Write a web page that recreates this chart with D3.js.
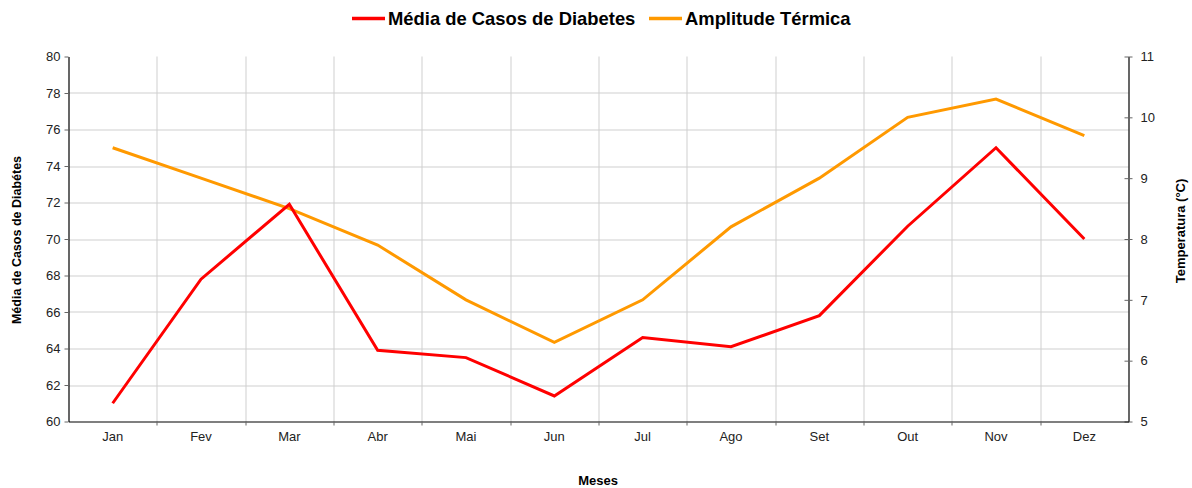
<!DOCTYPE html>
<html>
<head>
<meta charset="utf-8">
<script src="https://cdn.jsdelivr.net/npm/d3@7"></script>
<style>
  body { margin: 0; background: #fff; }
  text { font-family: "Liberation Sans", Arial, sans-serif; }
</style>
</head>
<body>
<script>
const width = 1192;
const height = 488;
const margin = { top: 56.5, left: 68.5, right: 63.5, bottom: 66.5 };
const board = {
  width: width - (margin.left + margin.right),
  height: height - (margin.top + margin.bottom),
};

const months = ['Jan', 'Fev', 'Mar', 'Abr', 'Mai', 'Jun', 'Jul', 'Ago', 'Set', 'Out', 'Nov', 'Dez'];
const diabetes = [61.0, 67.8, 71.9, 63.9, 63.5, 61.4, 64.6, 64.1, 65.8, 70.7, 75.0, 70.0];
const amplitude = [9.5, 9.0, 8.5, 7.9, 7.0, 6.3, 7.0, 8.2, 9.0, 10.0, 10.3, 9.7];
const leftTicks = [60, 62, 64, 66, 68, 70, 72, 74, 76, 78, 80];
const rightTicks = [5, 6, 7, 8, 9, 10, 11];
const seriesNames = ['Média de Casos de Diabetes', 'Amplitude Térmica'];
const colors = ['#ff0000', '#ff9900'];

const svg = d3.select('body')
  .append('svg')
    .attr('width', width)
    .attr('height', height);

const g = svg.append('g')
  .attr('transform', `translate(${margin.left}, ${margin.top})`);

const x = d3.scaleBand()
  .range([0, board.width])
  .domain(months);

const yL = d3.scaleLinear()
  .range([board.height, 0])
  .domain([60, 80]);

const yR = d3.scaleLinear()
  .range([board.height, 0])
  .domain([5, 11]);

// grid
g.append('g')
  .selectAll('line')
  .data(leftTicks.slice(1, -1))
  .enter()
    .append('line')
    .attr('x1', 0)
    .attr('x2', board.width)
    .attr('y1', (d) => Math.round(yL(d)) + 0.5)
    .attr('y2', (d) => Math.round(yL(d)) + 0.5)
    .attr('stroke', '#cfcfcf')
    .attr('stroke-width', 1);

g.append('g')
  .selectAll('line')
  .data(months.slice(1))
  .enter()
    .append('line')
    .attr('x1', (d) => Math.round(x(d)) + 0.5)
    .attr('x2', (d) => Math.round(x(d)) + 0.5)
    .attr('y1', 0)
    .attr('y2', board.height)
    .attr('stroke', '#cfcfcf')
    .attr('stroke-width', 1);

// axes
const leftAxis = d3.axisLeft(yL)
  .tickValues(leftTicks)
  .tickSizeInner(4)
  .tickSizeOuter(0)
  .tickPadding(4);

const rightAxis = d3.axisRight(yR)
  .tickValues(rightTicks)
  .tickFormat(d3.format('d'))
  .tickSizeInner(4)
  .tickSizeOuter(0)
  .tickPadding(8);

const xAxis = d3.axisBottom(x)
  .tickSize(0)
  .tickPadding(10);

const la = g.append('g').call(leftAxis);
const ra = g.append('g').attr('transform', `translate(${board.width}, 0)`).call(rightAxis);
const xa = g.append('g').attr('transform', `translate(0, ${board.height})`).call(xAxis);

ra.selectAll('.tick line').attr('x1', -4);

// x ticks at band boundaries
xa.append('g')
  .selectAll('line')
  .data(months.slice(1))
  .enter()
    .append('line')
    .attr('x1', (d) => Math.round(x(d)) + 0.5)
    .attr('x2', (d) => Math.round(x(d)) + 0.5)
    .attr('y1', 0)
    .attr('y2', 4)
    .attr('stroke', '#666');

[la, ra, xa].forEach((a) => {
  a.selectAll('.domain').attr('stroke', '#000').attr('stroke-width', 1.2);
  a.selectAll('.tick line').attr('stroke', '#666');
  a.selectAll('text')
    .attr('font-size', 13)
    .attr('fill', '#222')
    .style('font-family', '"Liberation Sans", Arial, sans-serif');
});

// lines
const cx = (d, i) => x(months[i]) + x.bandwidth() / 2;

const lineL = d3.line().x(cx).y((d) => yL(d));
const lineR = d3.line().x(cx).y((d) => yR(d));

g.append('path')
  .datum(amplitude)
  .attr('fill', 'none')
  .attr('stroke', colors[1])
  .attr('stroke-width', 3)
  .attr('d', lineR);

g.append('path')
  .datum(diabetes)
  .attr('fill', 'none')
  .attr('stroke', colors[0])
  .attr('stroke-width', 3)
  .attr('d', lineL);

// axis titles
svg.append('text')
  .attr('transform', 'translate(21, 240) rotate(-90)')
  .attr('text-anchor', 'middle')
  .attr('font-size', 12.5)
  .attr('font-weight', 'bold')
  .text('Média de Casos de Diabétes');

svg.append('text')
  .attr('transform', 'translate(1185, 231) rotate(-90)')
  .attr('text-anchor', 'middle')
  .attr('font-size', 13)
  .attr('font-weight', 'bold')
  .text('Temperatura (°C)');

svg.append('text')
  .attr('x', 598)
  .attr('y', 485)
  .attr('text-anchor', 'middle')
  .attr('font-size', 13)
  .attr('font-weight', 'bold')
  .text('Meses');

// legend
const legendX = [352, 649];
const legend = svg.append('g');

legend.selectAll('line')
  .data(seriesNames)
  .enter()
    .append('line')
    .attr('x1', (d, i) => legendX[i])
    .attr('x2', (d, i) => legendX[i] + 33)
    .attr('y1', 18.5)
    .attr('y2', 18.5)
    .attr('stroke', (d, i) => colors[i])
    .attr('stroke-width', 3.5);

legend.selectAll('text')
  .data(seriesNames)
  .enter()
    .append('text')
    .attr('x', (d, i) => legendX[i] + 36)
    .attr('y', 25)
    .attr('font-size', 18.4)
    .attr('font-weight', 'bold')
    .text((d) => d);
</script>
</body>
</html>
